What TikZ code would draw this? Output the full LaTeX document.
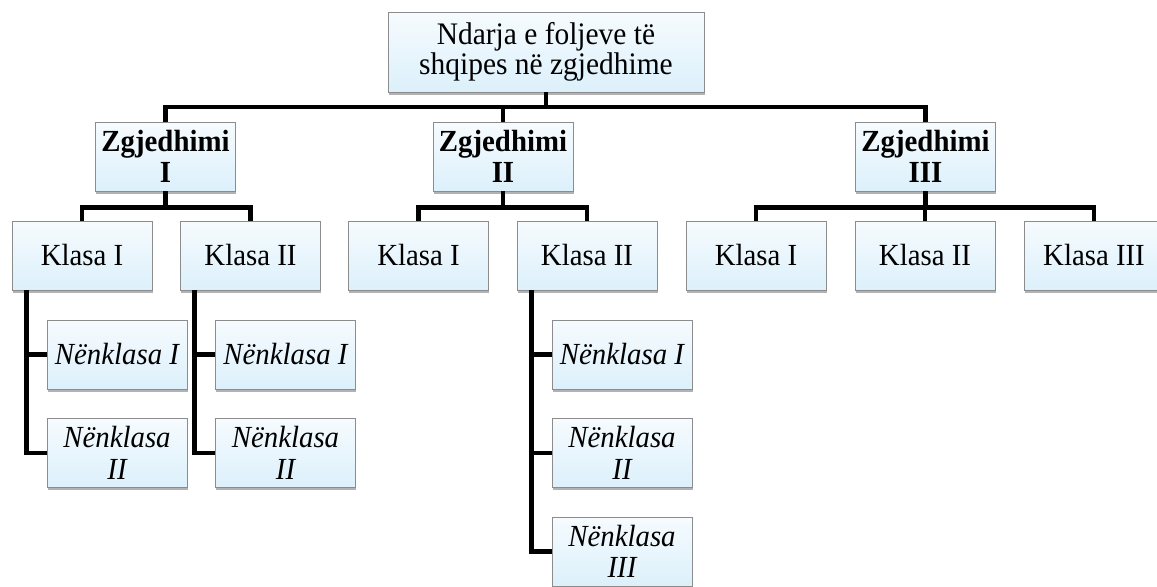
\documentclass[tikz,border=0pt]{standalone}
\usepackage{fontspec}
\setmainfont{Liberation Serif}[FakeStretch=0.94]
\usetikzlibrary{shadows}
\definecolor{boxtop}{RGB}{246,251,254}
\definecolor{boxbot}{RGB}{220,240,251}
\definecolor{boxline}{RGB}{140,140,140}
\tikzset{
  box/.style={draw=boxline, line width=0.6pt, top color=boxtop, bottom color=boxbot,
    minimum width=105pt, minimum height=51.75pt, inner sep=1pt, align=center,
    font=\fontsize{23}{23.5}\selectfont,
    drop shadow={shadow xshift=0.6pt, shadow yshift=-2pt, opacity=0.3, fill=black}},
  headbox/.style={box, font=\fontsize{23}{23.5}\selectfont\bfseries},
  subbox/.style={box, font=\fontsize{23}{23.5}\selectfont\itshape},
  link/.style={draw=black, line width=3.6pt}
}

\begin{document}
\begin{tikzpicture}[x=0.75pt,y=-0.75pt]
\useasboundingbox (0,0) rectangle (1157,586);
\clip (0,0) rectangle (1157,586);
% top
\node[box, minimum width=237pt, minimum height=60pt, font=\fontsize{23.5}{23}\selectfont] (top) at (546,52) {Ndarja e foljeve të\\shqipes në zgjedhime};
% zgjedhimet
\node[headbox] (z1) at (165.5,156.5) {Zgjedhimi\\I};
\node[headbox] (z2) at (503,156.5) {Zgjedhimi\\II};
\node[headbox] (z3) at (925.5,156.5) {Zgjedhimi\\III};
% klasat
\node[box] (k11) at (82,255.5) {Klasa I};
\node[box] (k12) at (250.5,255.5) {Klasa II};
\node[box] (k21) at (418.5,255.5) {Klasa I};
\node[box] (k22) at (587,255.5) {Klasa II};
\node[box] (k31) at (756,255.5) {Klasa I};
\node[box] (k32) at (925,255.5) {Klasa II};
\node[box] (k33) at (1094,255.5) {Klasa III};
% nenklasat
\node[subbox] (n111) at (117,354.5) {Nënklasa I};
\node[subbox] (n112) at (117,453) {Nënklasa\\II};
\node[subbox] (n121) at (285.5,354.5) {Nënklasa I};
\node[subbox] (n122) at (285.5,453) {Nënklasa\\II};
\node[subbox] (n221) at (622,354.5) {Nënklasa I};
\node[subbox] (n222) at (622,453) {Nënklasa\\II};
\node[subbox] (n223) at (622,551.5) {Nënklasa\\III};
% lidhjet
\coordinate (bus1) at (0,107);
\coordinate (bus2) at (0,207.5);
\draw[link] (top.south) -- (top.south |- bus1);
\draw[link] (z1.north) -- (z1.north |- bus1) -- (z3.north |- bus1) -- (z3.north);
\draw[link] (z2.north) -- (z2.north |- bus1);
\draw[link] (z1.south) -- (z1.south |- bus2);
\draw[link] (k11.north) -- (k11.north |- bus2) -- (k12.north |- bus2) -- (k12.north);
\draw[link] (z2.south) -- (z2.south |- bus2);
\draw[link] (k21.north) -- (k21.north |- bus2) -- (k22.north |- bus2) -- (k22.north);
\draw[link] (z3.south) -- (z3.south |- bus2);
\draw[link] (k31.north) -- (k31.north |- bus2) -- (k33.north |- bus2) -- (k33.north);
\draw[link] (k32.north) -- (k32.north |- bus2);
\draw[link] ([xshift=10.9pt]k11.south west) |- (n111.west);
\draw[link] ([xshift=10.9pt]k11.south west) |- (n112.west);
\draw[link] ([xshift=10.9pt]k12.south west) |- (n121.west);
\draw[link] ([xshift=10.9pt]k12.south west) |- (n122.west);
\draw[link] ([xshift=10.9pt]k22.south west) |- (n221.west);
\draw[link] ([xshift=10.9pt]k22.south west) |- (n222.west);
\draw[link] ([xshift=10.9pt]k22.south west) |- (n223.west);
\end{tikzpicture}
\end{document}
